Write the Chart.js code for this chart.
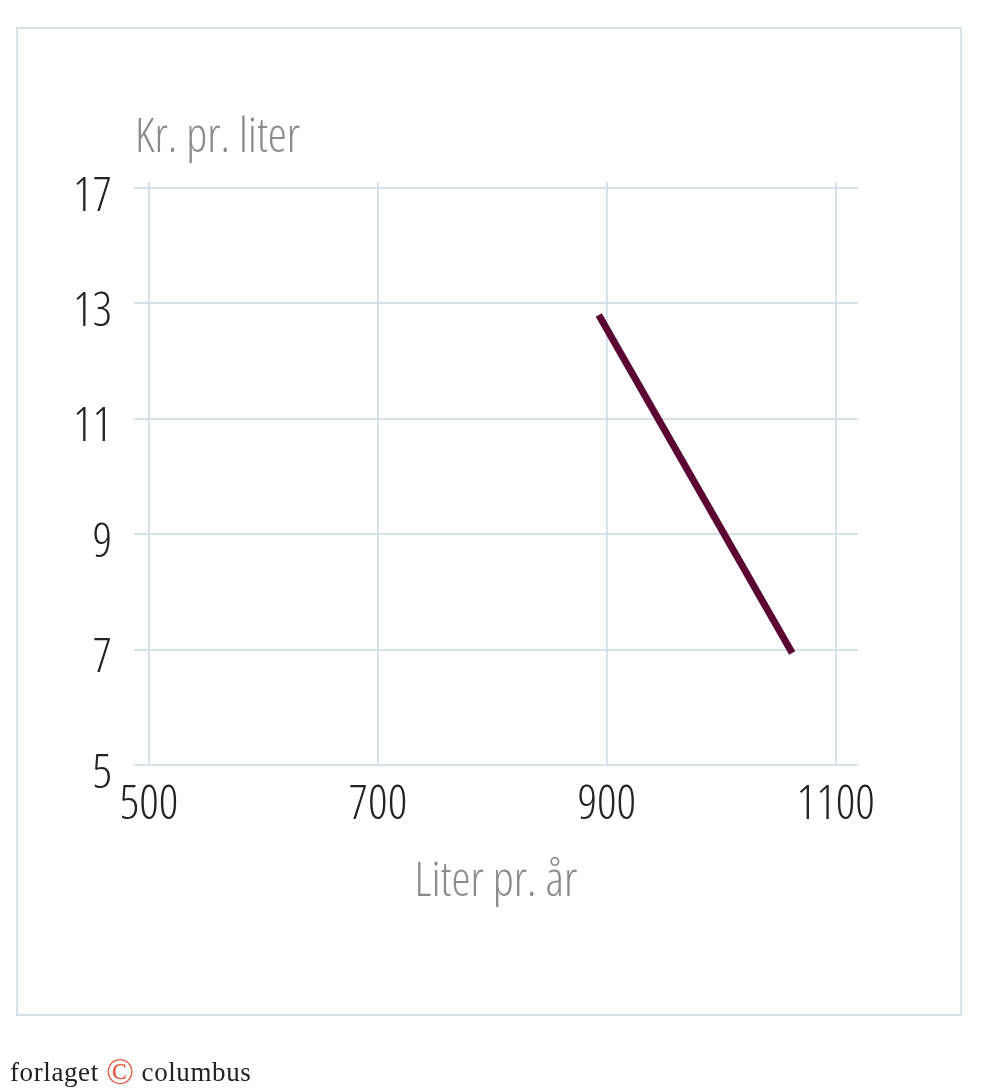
<!DOCTYPE html>
<html>
<head>
<meta charset="utf-8">
<script src="https://cdn.jsdelivr.net/npm/chart.js@4"></script>
<style>
  body { margin: 0; background: #fff; width: 1000px; height: 1090px; position: relative; overflow: hidden; }
  #frame { position: absolute; left: 16px; top: 27px; width: 946px; height: 989px; box-sizing: border-box; border: 2px solid #d6e1ec; }
  #chart { position: absolute; left: 0; top: 0; }
  #footer { position: absolute; left: 10px; top: 1057px; line-height: 30px; font-family: "Liberation Serif", serif; font-size: 27px; letter-spacing: 0.6px; color: #222; white-space: nowrap; }
  #footer .c { color: #e4573d; font-size: 37px; line-height: 0; position: relative; top: 3px; letter-spacing: 0; }
</style>
</head>
<body>
<div id="frame"></div>
<canvas id="chart" width="1000" height="1090"></canvas>
<div id="footer">forlaget <span class="c">©</span> columbus</div>
<script>
// data
const xTicks = [500, 700, 900, 1100];
const yTickValues = [5, 7, 9, 11, 13, 15];
const yTickLabels = ["5", "7", "9", "11", "13", "17"];
const litersPerYear = [893, 1062];
const pricePerLiter = [12.8, 6.94];

const FONT = '"Open Sans", "Roboto Condensed", sans-serif';
const WEIGHT = "350 condensed"; // semi-light condensed Open Sans
const GRID = "#d6e1ec";
const TITLE_COLOR = "#8b8b8b";

// y title sits horizontally above the plot
const yTitlePlugin = {
  id: "yTitle",
  afterDraw(chart) {
    const { ctx, chartArea } = chart;
    ctx.save();
    ctx.font = WEIGHT + " 48px " + FONT;
    ctx.fillStyle = TITLE_COLOR;
    ctx.textAlign = "left";
    ctx.textBaseline = "alphabetic";
    ctx.fillText("Kr. pr. liter", chartArea.left + 1, chartArea.top - 30);
    ctx.restore();
  },
};

const ctx = document.getElementById("chart").getContext("2d");
new Chart(ctx, {
  type: "line",
  data: {
    datasets: [
      {
        data: litersPerYear.map((x, i) => ({ x, y: pricePerLiter[i] })),
        borderColor: "#5a0532",
        borderWidth: 7,
        borderCapStyle: "butt",
        pointRadius: 0,
        fill: false,
      },
    ],
  },
  options: {
    responsive: false,
    animation: false,
    layout: { padding: { left: 0, top: 182, right: 142, bottom: 175 } },
    plugins: {
      legend: { display: false },
      tooltip: { enabled: false },
    },
    scales: {
      x: {
        type: "linear",
        min: 486.9,
        max: 1119.5,
        afterBuildTicks: (s) => {
          s.ticks = xTicks.map((v) => ({ value: v }));
        },
        afterFit: (s) => {
          s.height = 150;
        },
        grid: { color: GRID, lineWidth: 2, drawTicks: false },
        border: { display: false },
        ticks: {
          color: "#222",
          font: { family: FONT, size: 48, weight: WEIGHT },
          padding: 12,
          maxRotation: 0,
          autoSkip: false,
          callback: (v) => String(v),
        },
        title: {
          display: true,
          text: "Liter pr. år",
          color: TITLE_COLOR,
          font: { family: FONT, size: 48, weight: WEIGHT },
          padding: { top: 0, bottom: 4 },
        },
      },
      y: {
        type: "linear",
        min: 5,
        max: 15.104,
        afterBuildTicks: (s) => {
          s.ticks = yTickValues.map((v) => ({ value: v }));
        },
        afterFit: (s) => {
          s.width = 134;
        },
        grid: { color: GRID, lineWidth: 2, drawTicks: false },
        border: { display: false },
        ticks: {
          color: "#222",
          font: { family: FONT, size: 48, weight: WEIGHT },
          padding: 22,
          labelOffset: 9,
          autoSkip: false,
          callback: (v, i) => yTickLabels[i],
        },
      },
    },
  },
  plugins: [yTitlePlugin],
});
</script>
</body>
</html>
